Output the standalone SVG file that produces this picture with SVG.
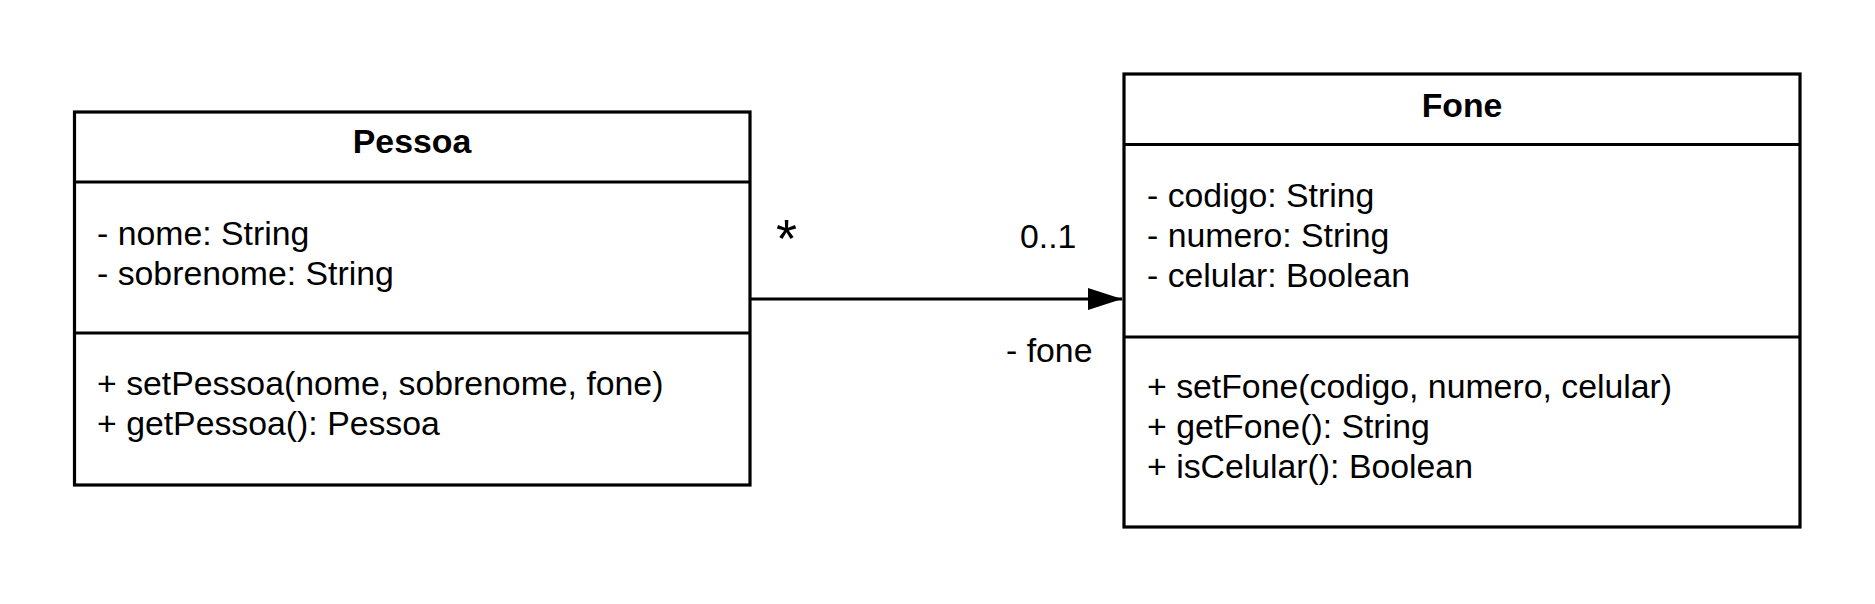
<svg xmlns="http://www.w3.org/2000/svg" width="1875" height="604" viewBox="0 0 1875 604">
<style>
text{font-family:"Liberation Sans",Arial,sans-serif;font-size:33.8px;fill:#000}
.t{font-weight:bold;text-anchor:middle}
.box{fill:#fff;stroke:#000;stroke-width:3.2}
.ln{stroke:#000;stroke-width:3.2}
</style>
<defs>
<marker id="arr" markerUnits="userSpaceOnUse" markerWidth="36" markerHeight="24" refX="34" refY="11" orient="auto">
<path d="M0,0 L34,11 L0,22 Z" fill="#000"/>
</marker>
</defs>
<rect width="1875" height="604" fill="#fff"/>
<g id="connectors">
<line x1="750" y1="299" x2="1122" y2="299" stroke="#000" stroke-width="3.2" marker-end="url(#arr)"/>
<text x="776" y="257" style="font-size:54px">*</text>
<text x="1020" y="248">0..1</text>
<text x="1006" y="362">- fone</text>
</g>
<g id="Pessoa">
<rect class="box" x="74.5" y="112" width="675.5" height="373"/>
<line class="ln" x1="74.5" y1="182" x2="750" y2="182"/>
<line class="ln" x1="74.5" y1="333" x2="750" y2="333"/>
<text class="t" x="412" y="153">Pessoa</text>
<text x="97" y="245">- nome: String</text>
<text x="97" y="285">- sobrenome: String</text>
<text x="97" y="395">+ setPessoa(nome, sobrenome, fone)</text>
<text x="97" y="435">+ getPessoa(): Pessoa</text>
</g>
<g id="Fone">
<rect class="box" x="1124" y="74" width="676" height="453"/>
<line class="ln" x1="1124" y1="144.5" x2="1800" y2="144.5"/>
<line class="ln" x1="1124" y1="337" x2="1800" y2="337"/>
<text class="t" x="1462" y="116.5">Fone</text>
<text x="1147" y="207">- codigo: String</text>
<text x="1147" y="247">- numero: String</text>
<text x="1147" y="287">- celular: Boolean</text>
<text x="1147" y="398">+ setFone(codigo, numero, celular)</text>
<text x="1147" y="438">+ getFone(): String</text>
<text x="1147" y="478">+ isCelular(): Boolean</text>
</g>
</svg>
